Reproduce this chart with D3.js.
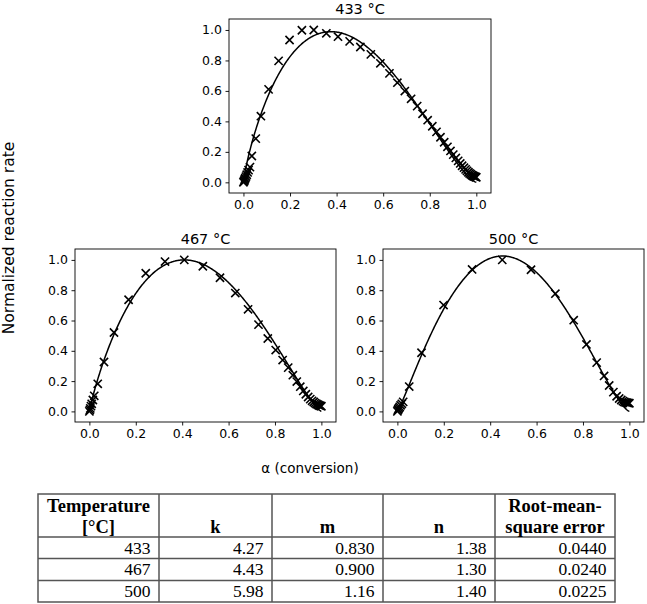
<!DOCTYPE html>
<html>
<head>
<meta charset="utf-8">
<script src="https://cdn.jsdelivr.net/npm/d3@7"></script>
<style>
  html, body { margin: 0; padding: 0; background: #fff; }
  svg { display: block; }
  .tick text { font-family: "DejaVu Sans", sans-serif; font-size: 12.5px; fill: #000; }
  .tick line { stroke: #000; stroke-width: 0.9; }
</style>
</head>
<body>
<svg id="chart" width="647" height="604"></svg>
<script>
// ---------- DATA ----------
const temperatures = [433, 467, 500];
const kValues = [4.27, 4.43, 5.98];
const mValues = [0.830, 0.900, 1.16];
const nValues = [1.38, 1.30, 1.40];
const rmseValues = [0.0440, 0.0240, 0.0225];
const kLabels = ["4.27", "4.43", "5.98"];
const mLabels = ["0.830", "0.900", "1.16"];
const nLabels = ["1.38", "1.30", "1.40"];
const rmseLabels = ["0.0440", "0.0240", "0.0225"];
const tickValues = [0, 0.2, 0.4, 0.6, 0.8, 1.0];

const points433 = [
  [0.000,0.000],[0.002,0.006],[0.004,0.012],[0.006,0.020],[0.008,0.028],[0.011,0.038],
  [0.014,0.050],[0.018,0.065],[0.022,0.080],[0.028,0.100],[0.036,0.173],[0.053,0.287],
  [0.075,0.434],[0.108,0.610],[0.151,0.797],[0.198,0.934],[0.251,0.998],[0.302,1.000],
  [0.356,0.978],[0.406,0.956],[0.456,0.925],[0.502,0.888],[0.547,0.840],[0.588,0.781],
  [0.627,0.715],[0.661,0.654],[0.693,0.599],[0.720,0.548],[0.746,0.500],[0.769,0.450],
  [0.791,0.408],[0.811,0.368],[0.829,0.331],[0.846,0.296],[0.862,0.263],[0.876,0.233],
  [0.889,0.206],[0.901,0.182],[0.912,0.160],[0.922,0.141],[0.931,0.124],[0.939,0.109],
  [0.947,0.096],[0.954,0.085],[0.960,0.075],[0.966,0.066],[0.971,0.059],[0.976,0.053],
  [0.981,0.047],[0.985,0.043],[0.989,0.040],[0.993,0.037],[0.997,0.035],[1.000,0.033]
];
const points467 = [
  [0.000,0.000],[0.002,0.010],[0.004,0.020],[0.007,0.035],[0.010,0.050],[0.015,0.075],
  [0.021,0.103],[0.036,0.182],[0.063,0.326],[0.106,0.521],[0.169,0.737],[0.243,0.912],
  [0.326,0.989],[0.409,1.000],[0.489,0.958],[0.563,0.882],[0.629,0.781],[0.684,0.674],
  [0.729,0.573],[0.769,0.481],[0.803,0.405],[0.833,0.339],[0.857,0.289],[0.877,0.239],
  [0.894,0.197],[0.909,0.163],[0.922,0.135],[0.933,0.113],[0.943,0.095],[0.952,0.081],
  [0.960,0.070],[0.967,0.062],[0.973,0.055],[0.979,0.049],[0.984,0.045],[0.988,0.041],
  [0.992,0.038],[0.996,0.036],[1.000,0.034]
];
const points500 = [
  [0.000,0.000],[0.002,0.008],[0.004,0.015],[0.007,0.022],[0.010,0.030],[0.014,0.040],
  [0.019,0.050],[0.025,0.063],[0.051,0.164],[0.104,0.387],[0.199,0.702],[0.322,0.937],
  [0.452,1.000],[0.576,0.935],[0.681,0.777],[0.760,0.602],[0.815,0.442],[0.859,0.322],
  [0.891,0.234],[0.913,0.171],[0.931,0.127],[0.945,0.100],[0.956,0.085],[0.965,0.075],
  [0.972,0.068],[0.978,0.063],[0.983,0.060],[0.988,0.058],[0.992,0.056],[0.996,0.055],
  [1.000,0.054]
];
const pointSets = [points433, points467, points500];

// ---------- LAYOUT ----------
const svg = d3.select("#chart");
const panels = [
  { left: 229, top: 19, width: 262, height: 174 },
  { left: 75,  top: 249, width: 261, height: 173 },
  { left: 383, top: 249, width: 261, height: 173 }
];
const xDomain = [-0.062, 1.063];
const yDomain = [-0.07, 1.072];

panels.forEach((p, i) => {
  const x = d3.scaleLinear().domain(xDomain).range([p.left, p.left + p.width]);
  const y = d3.scaleLinear().domain(yDomain).range([p.top + p.height, p.top]);
  const g = svg.append("g");

  // fitted model curve: k * a^m * (1-a)^n
  const k = kValues[i], m = mValues[i], n = nValues[i];
  const curve = d3.range(0, 1.0001, 0.0025).map(a => [a, k * Math.pow(a, m) * Math.pow(Math.max(0, 1 - a), n)]);
  g.append("path")
    .datum(curve)
    .attr("fill", "none")
    .attr("stroke", "#000")
    .attr("stroke-width", 1.5)
    .attr("d", d3.line().x(d => x(d[0])).y(d => y(d[1])));

  // x markers
  const s = 4.1;
  g.selectAll(".pt").data(pointSets[i]).enter().append("path")
    .attr("d", d => {
      const cx = x(d[0]), cy = y(d[1]);
      return `M${cx - s},${cy - s}L${cx + s},${cy + s}M${cx - s},${cy + s}L${cx + s},${cy - s}`;
    })
    .attr("stroke", "#000")
    .attr("stroke-width", 1.6)
    .attr("fill", "none");

  // frame
  g.append("rect")
    .attr("x", p.left).attr("y", p.top)
    .attr("width", p.width).attr("height", p.height)
    .attr("fill", "none").attr("stroke", "#000").attr("stroke-width", 0.9);

  const fmt = d3.format(".1f");
  const xa = g.append("g").attr("transform", `translate(0,${p.top + p.height})`)
    .call(d3.axisBottom(x).tickValues(tickValues).tickFormat(fmt).tickSize(3.5).tickPadding(3.5));
  xa.select(".domain").remove();
  const ya = g.append("g").attr("transform", `translate(${p.left},0)`)
    .call(d3.axisLeft(y).tickValues(tickValues).tickFormat(fmt).tickSize(3.5).tickPadding(3.5));
  ya.select(".domain").remove();

  g.append("text")
    .attr("x", p.left + p.width / 2)
    .attr("y", p.top - 5)
    .attr("text-anchor", "middle")
    .attr("font-family", "DejaVu Sans, sans-serif")
    .attr("font-size", 14.5)
    .text(temperatures[i] + " °C");
});

// shared axis labels
svg.append("text")
  .attr("transform", "translate(14,238) rotate(-90)")
  .attr("text-anchor", "middle")
  .attr("font-family", "DejaVu Sans, sans-serif")
  .attr("font-size", 15.5)
  .text("Normalized reaction rate");

svg.append("text")
  .attr("x", 310).attr("y", 473)
  .attr("text-anchor", "middle")
  .attr("font-family", "DejaVu Sans, sans-serif")
  .attr("font-size", 13.5)
  .text("α (conversion)");

// ---------- TABLE ----------
const colEdges = [38, 159, 272, 383, 495, 615];
const rowEdges = [494, 537, 558.5, 580.5, 602];
const tg = svg.append("g");
const serif = "Liberation Serif, Times New Roman, serif";

tg.append("rect")
  .attr("x", colEdges[0]).attr("y", rowEdges[0])
  .attr("width", colEdges[5] - colEdges[0]).attr("height", rowEdges[4] - rowEdges[0])
  .attr("fill", "none").attr("stroke", "#555").attr("stroke-width", 1.5);
colEdges.slice(1, 5).forEach(cx => {
  tg.append("line").attr("x1", cx).attr("x2", cx).attr("y1", rowEdges[0]).attr("y2", rowEdges[4])
    .attr("stroke", "#555").attr("stroke-width", 1.5);
});
rowEdges.slice(1, 4).forEach(ry => {
  tg.append("line").attr("x1", colEdges[0]).attr("x2", colEdges[5]).attr("y1", ry).attr("y2", ry)
    .attr("stroke", "#555").attr("stroke-width", 1.5);
});

const headers = [["Temperature", "[°C]"], ["", "k"], ["", "m"], ["", "n"], ["Root-mean-", "square error"]];
headers.forEach((h, c) => {
  const cx = (colEdges[c] + colEdges[c + 1]) / 2;
  h.forEach((line, li) => {
    if (!line) return;
    tg.append("text")
      .attr("x", cx).attr("y", li === 0 ? 512 : 533)
      .attr("text-anchor", "middle")
      .attr("font-family", serif).attr("font-weight", "bold").attr("font-size", 18.5)
      .text(line);
  });
});

const rows = temperatures.map((t, i) => [String(t), kLabels[i], mLabels[i], nLabels[i], rmseLabels[i]]);
rows.forEach((r, ri) => {
  r.forEach((v, c) => {
    tg.append("text")
      .attr("x", colEdges[c + 1] - 8.5)
      .attr("y", rowEdges[ri + 1] + 16.5)
      .attr("text-anchor", "end")
      .attr("font-family", serif).attr("font-size", 17.5)
      .text(v);
  });
});
</script>
</body>
</html>
